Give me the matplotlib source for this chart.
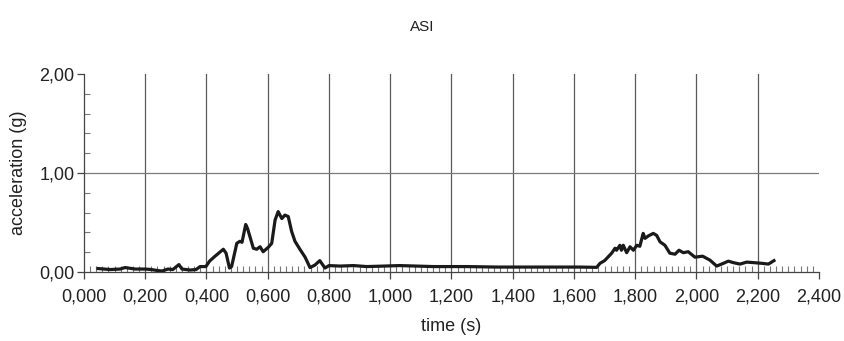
import numpy as np
import matplotlib.pyplot as plt
from matplotlib.ticker import MultipleLocator, FixedLocator

plt.rcParams['font.family'] = ['Liberation Sans', 'DejaVu Sans']

# values
time_s = [0.046, 0.085, 0.118, 0.134, 0.167, 0.200, 0.220, 0.240, 0.255, 0.274,
          0.290, 0.300, 0.310, 0.320, 0.346, 0.366, 0.379, 0.398, 0.410, 0.428,
          0.455, 0.464, 0.475, 0.482, 0.499, 0.509, 0.516, 0.528, 0.534, 0.553,
          0.564, 0.575, 0.585, 0.602, 0.613, 0.624, 0.634, 0.646, 0.656, 0.667,
          0.678, 0.689, 0.705, 0.722, 0.738, 0.754, 0.770, 0.787, 0.800, 0.836,
          0.880, 0.923, 0.980, 1.030, 1.086, 1.140, 1.250, 1.350, 1.450, 1.550,
          1.620, 1.674, 1.685, 1.700, 1.723, 1.734, 1.739, 1.750, 1.755, 1.761,
          1.772, 1.783, 1.794, 1.805, 1.815, 1.826, 1.832, 1.843, 1.859, 1.870,
          1.881, 1.897, 1.913, 1.930, 1.943, 1.957, 1.973, 1.995, 2.020, 2.044,
          2.066, 2.088, 2.104, 2.120, 2.142, 2.164, 2.186, 2.213, 2.235, 2.253]
accel_g = [0.035, 0.025, 0.030, 0.045, 0.030, 0.030, 0.025, 0.015, 0.010, 0.030,
           0.025, 0.050, 0.075, 0.030, 0.020, 0.025, 0.055, 0.055, 0.110, 0.160,
           0.230, 0.190, 0.040, 0.055, 0.290, 0.310, 0.300, 0.480, 0.440, 0.240,
           0.230, 0.255, 0.205, 0.250, 0.290, 0.525, 0.610, 0.540, 0.575, 0.560,
           0.410, 0.310, 0.230, 0.150, 0.045, 0.070, 0.115, 0.040, 0.065, 0.060,
           0.065, 0.055, 0.060, 0.065, 0.060, 0.055, 0.055, 0.050, 0.050, 0.050,
           0.050, 0.047, 0.088, 0.115, 0.190, 0.240, 0.220, 0.270, 0.220, 0.270,
           0.195, 0.255, 0.220, 0.270, 0.260, 0.390, 0.340, 0.365, 0.390, 0.370,
           0.305, 0.270, 0.190, 0.180, 0.220, 0.195, 0.205, 0.150, 0.160, 0.120,
           0.060, 0.088, 0.110, 0.095, 0.080, 0.100, 0.095, 0.088, 0.080, 0.115]

x_ticks = [0.0, 0.2, 0.4, 0.6, 0.8, 1.0, 1.2, 1.4, 1.6, 1.8, 2.0, 2.2, 2.4]
y_ticks = [0.0, 1.0, 2.0]

fig = plt.figure(figsize=(8.45, 3.41), dpi=100)
ax = fig.add_axes([0.0994, 0.2023, 0.8698, 0.5807])

# grid lines
for xv in x_ticks[1:-1]:
    ax.axvline(xv, color='#5a5a5a', lw=0.9, zorder=1)
ax.axhline(1.0, color='#7a7a7a', lw=0.9, zorder=1)

ax.plot(time_s, accel_g, color='#1a1a1a', lw=2.3, zorder=3, solid_joinstyle='round')

ax.set_xlim(0, 2.4)
ax.set_ylim(0, 2.0)
ax.spines['top'].set_visible(False)
ax.spines['right'].set_visible(False)
for s in ('left', 'bottom'):
    ax.spines[s].set_color('#444444')
    ax.spines[s].set_linewidth(0.9)

ax.xaxis.set_major_locator(FixedLocator(x_ticks))
ax.xaxis.set_minor_locator(MultipleLocator(0.02))
ax.yaxis.set_major_locator(FixedLocator(y_ticks))
ax.yaxis.set_minor_locator(MultipleLocator(0.2))
ax.set_xticklabels([f"{v:.3f}".replace('.', ',') for v in x_ticks])
ax.set_yticklabels([f"{v:.2f}".replace('.', ',') for v in y_ticks])

ax.tick_params(axis='both', which='major', direction='out', length=5, width=0.9,
               color='#444444', labelsize=13, labelcolor='#222222')
ax.tick_params(axis='x', which='major', pad=7)
ax.tick_params(axis='y', which='major', pad=2)
ax.tick_params(axis='both', which='minor', direction='in', length=4, width=0.8,
               color='#777777')

ax.set_xlabel('time (s)', fontsize=13, color='#222222', labelpad=9)
ax.set_ylabel('acceleration (g)', fontsize=13, color='#222222', labelpad=9)
fig.text(0.5, 0.921, 'ASI', ha='center', va='center', fontsize=11, color='#222222')

fig.savefig('out.png', dpi=100)
